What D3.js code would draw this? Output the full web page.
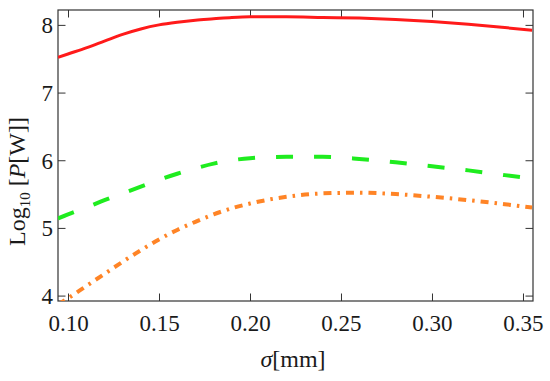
<!DOCTYPE html>
<html>
<head>
<meta charset="utf-8">
<script src="https://cdn.jsdelivr.net/npm/d3@7"></script>
</head>
<body style="margin:0;background:#fff">
<svg width="550" height="381" style="display:block"></svg>
<script>
// sigma in mm, values are log10 of P in W
let sigma = [0.0945, 0.10, 0.11, 0.12, 0.13, 0.14, 0.15, 0.16, 0.17, 0.18, 0.19, 0.20, 0.22, 0.24, 0.26, 0.28, 0.30, 0.32, 0.34, 0.355];
let solidRed = [7.52, 7.57, 7.66, 7.76, 7.86, 7.94, 8.00, 8.04, 8.07, 8.09, 8.11, 8.12, 8.12, 8.11, 8.10, 8.08, 8.05, 8.01, 7.96, 7.92];
let dashedGreen = [5.14, 5.20, 5.30, 5.41, 5.51, 5.61, 5.71, 5.80, 5.88, 5.95, 6.00, 6.03, 6.05, 6.05, 6.02, 5.97, 5.91, 5.85, 5.78, 5.73];
let dotDashOrange = [3.87, 3.96, 4.14, 4.32, 4.50, 4.67, 4.83, 4.97, 5.09, 5.20, 5.29, 5.36, 5.46, 5.51, 5.52, 5.50, 5.46, 5.41, 5.35, 5.30];

let xTicks = [0.10, 0.15, 0.20, 0.25, 0.30, 0.35];
let yTicks = [4, 5, 6, 7, 8];

const FONT = "Liberation Serif";

var margin = {top: 10, right: 17, bottom: 80, left: 58};
let width = 550 - margin.left - margin.right;
let height = 381 - margin.top - margin.bottom;

let svg = d3.select("svg")
  .append("g")
  .attr("transform", "translate(" + margin.left + "," + margin.top + ")");

let scaleX = d3.scaleLinear().domain([0.0945, 0.3555]).range([0, width]);
let scaleY = d3.scaleLinear().domain([3.92, 8.22]).range([height, 0]);

// minor ticks
let xMinor = d3.range(0.10, 0.3501, 0.01).filter(v => xTicks.every(t => Math.abs(t - v) > 1e-6));
let yMinor = d3.range(3.8, 8.2001, 0.2).filter(v => v > 3.92 && yTicks.every(t => Math.abs(t - v) > 1e-6));

function frameAxis(gen, scale, major, minor, tf, labels) {
  let g = svg.append("g").attr("transform", tf);
  g.call(gen(scale).tickValues(minor).tickSize(-4).tickFormat(""));
  g.call(gen(scale).tickValues(major).tickSize(-7.5).tickFormat(labels ? d3.format(labels) : ""));
  g.attr("font-family", FONT);
  g.selectAll(".domain").remove();
  g.selectAll("line").attr("stroke", "#333").attr("stroke-width", 1);
  g.selectAll("text").attr("font-family", FONT).attr("fill", "#1a1a1a");
  return g;
}

let bx = frameAxis(d3.axisBottom, scaleX, xTicks, xMinor, `translate(0,${height})`, ".2f");
frameAxis(d3.axisTop, scaleX, xTicks, xMinor, "translate(0,0)", null);
let ly = frameAxis(d3.axisLeft, scaleY, yTicks, yMinor, "translate(0,0)", "d");
frameAxis(d3.axisRight, scaleY, yTicks, yMinor, `translate(${width},0)`, null);

bx.selectAll("text").attr("font-size", 23).attr("y", 14).attr("dy", "0.71em");
ly.selectAll("text").attr("font-size", 23).attr("x", -5).attr("dy", "0.35em");

svg.append("rect")
  .attr("width", width).attr("height", height)
  .attr("fill", "none").attr("stroke", "#333").attr("stroke-width", 1.2);

svg.append("clipPath").attr("id", "plotclip")
  .append("rect").attr("width", width).attr("height", height);

let line = d3.line()
  .x((d, i) => scaleX(sigma[i]))
  .y(d => scaleY(d))
  .curve(d3.curveMonotoneX);

let series = [
  {values: solidRed, color: "#ff1a1a", dash: null, w: 3},
  {values: dashedGreen, color: "#1fec1f", dash: "17,21", w: 4},
  {values: dotDashOrange, color: "#ff8426", dash: "8,6,2.5,6", w: 4}
];

svg.append("g").attr("clip-path", "url(#plotclip)")
  .selectAll("path").data(series).enter().append("path")
  .attr("d", d => line(d.values))
  .attr("fill", "none")
  .attr("stroke", d => d.color)
  .attr("stroke-width", d => d.w)
  .attr("stroke-dasharray", d => d.dash);

// axis labels
let xl = svg.append("text")
  .attr("x", 235).attr("y", height + 66)
  .attr("text-anchor", "middle").attr("font-size", 24)
  .attr("font-family", FONT).attr("fill", "#1a1a1a");
xl.append("tspan").attr("font-style", "italic").text("σ");
xl.append("tspan").text("[mm]");

let yl = svg.append("text")
  .attr("transform", `translate(${-33},${height / 2 + 26}) rotate(-90)`)
  .attr("text-anchor", "middle").attr("font-size", 24)
  .attr("font-family", FONT).attr("fill", "#1a1a1a");
yl.append("tspan").text("Log");
yl.append("tspan").attr("font-size", 15).attr("dy", 5).text("10");
yl.append("tspan").attr("dy", -5).text(" [");
yl.append("tspan").attr("font-style", "italic").text("P");
yl.append("tspan").text("[W]]");
</script>
</body>
</html>
